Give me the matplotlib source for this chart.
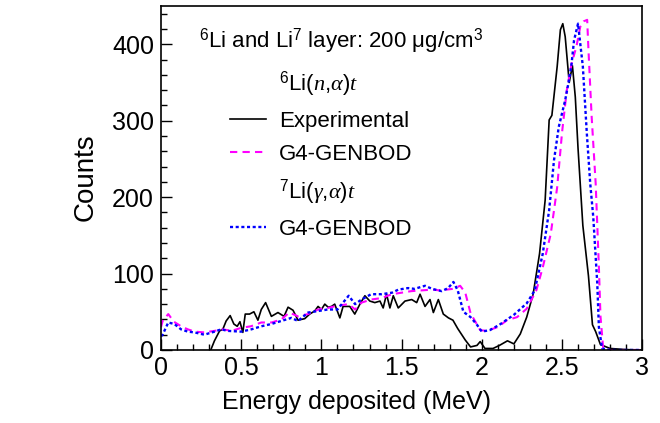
import matplotlib
matplotlib.use("Agg")
import matplotlib.pyplot as plt
from matplotlib.lines import Line2D
from matplotlib.ticker import MultipleLocator

plt.rcParams["font.family"] = ["Liberation Sans", "DejaVu Sans"]
plt.rcParams["mathtext.fontset"] = "custom"
plt.rcParams["mathtext.rm"] = "Liberation Sans"
plt.rcParams["mathtext.it"] = "Liberation Serif:italic"
plt.rcParams["mathtext.bf"] = "Liberation Sans:bold"

# Experimental 6Li(n,alpha)t spectrum
exp_energy = [0.31, 0.333, 0.365, 0.385, 0.406, 0.431, 0.454, 0.475, 0.492, 0.51,
              0.525, 0.552, 0.579, 0.604, 0.625, 0.652, 0.688, 0.729, 0.767, 0.792,
              0.823, 0.854, 0.896, 0.927, 0.958, 0.979, 1.0, 1.021, 1.042, 1.063,
              1.083, 1.115, 1.135, 1.177, 1.208, 1.24, 1.271, 1.302, 1.333, 1.365,
              1.385, 1.406, 1.427, 1.448, 1.479, 1.521, 1.563, 1.594, 1.615, 1.646,
              1.677, 1.698, 1.729, 1.76, 1.792, 1.82, 1.85, 1.897, 1.93, 1.97,
              1.99, 2.02, 2.07, 2.11, 2.16, 2.2, 2.24, 2.28, 2.32, 2.36,
              2.395, 2.42, 2.437, 2.47, 2.49, 2.505, 2.52, 2.545, 2.565, 2.583,
              2.6, 2.63, 2.665, 2.69, 2.71, 2.74, 2.8, 2.9, 3.0]
exp_counts = [0, 12, 25, 27, 38, 45, 34, 31, 37, 23,
              47, 47, 50, 39, 53, 62, 44, 49, 44, 56,
              52, 39, 41, 47, 51, 57, 53, 60, 56, 57,
              60, 42, 57, 57, 47, 60, 71, 64, 62, 64,
              55, 73, 55, 71, 55, 64, 66, 62, 73, 57,
              66, 49, 66, 47, 42, 39, 28, 13, 4, 6,
              11, 2, 2, 6, 12, 8, 21, 43, 73, 126,
              196, 301, 307, 371, 419, 427, 410, 350, 372, 331,
              264, 163, 97, 33, 24, 7, 2, 0.5, 0]

# G4-GENBOD 6Li(n,alpha)t
nat_energy = [0.0, 0.01, 0.045, 0.08, 0.125, 0.167, 0.21, 0.27, 0.333, 0.385,
              0.44, 0.5, 0.56, 0.625, 0.69, 0.75, 0.8, 0.854, 0.917, 0.98,
              1.04, 1.1, 1.17, 1.21, 1.25, 1.31, 1.375, 1.44, 1.5, 1.56,
              1.625, 1.69, 1.74, 1.82, 1.865, 1.897, 1.93, 1.96, 1.99, 2.03,
              2.1, 2.157, 2.22, 2.28, 2.34, 2.38, 2.43, 2.47, 2.5, 2.53,
              2.56, 2.59, 2.614, 2.635, 2.657, 2.665, 2.685, 2.71, 2.73, 2.74,
              2.757, 2.8, 3.0]
nat_counts = [30, 38, 47, 37, 31, 27, 24, 23, 25, 27,
              25, 29, 31, 36, 36, 40, 49, 44, 47, 53,
              55, 58, 60, 53, 62, 66, 68, 73, 75, 77,
              78, 79, 78, 80, 84, 75, 48, 37, 26, 25,
              30, 39, 43, 54, 78, 108, 152, 213, 284, 340,
              375, 397, 423, 430, 432, 393, 305, 218, 109, 44,
              2, 0, 0]

# G4-GENBOD 7Li(gamma,alpha)t
gat_energy = [0.0, 0.01, 0.045, 0.083, 0.125, 0.167, 0.21, 0.27, 0.333, 0.375,
              0.417, 0.5, 0.5625, 0.625, 0.6875, 0.75, 0.8125, 0.854, 0.917, 0.98,
              1.04, 1.1, 1.17, 1.21, 1.25, 1.31, 1.375, 1.44, 1.48, 1.54,
              1.58, 1.646, 1.69, 1.75, 1.79, 1.823, 1.85, 1.885, 1.93, 1.97,
              2.0, 2.05, 2.11, 2.2, 2.28, 2.33, 2.38, 2.42, 2.45, 2.48,
              2.52, 2.54, 2.56, 2.575, 2.6, 2.63, 2.655, 2.676, 2.695, 2.72,
              2.73, 2.75, 2.8, 3.0]
gat_counts = [18, 20, 36, 34, 27, 24, 23, 20, 24, 27,
              25, 24, 27, 31, 34, 38, 42, 38, 49, 51,
              53, 53, 71, 60, 66, 73, 73, 75, 79, 81,
              80, 84, 80, 77, 81, 89, 78, 50, 43, 33,
              24, 26, 33, 46, 61, 78, 126, 183, 248, 292,
              327, 349, 375, 405, 427, 371, 283, 218, 174, 87,
              30, 2, 0, 0]

fig = plt.figure(figsize=(6.6, 4.23), dpi=100)
ax = fig.add_axes([0.244, 0.1726, 0.729, 0.813])

ax.plot(exp_energy, exp_counts, color="black", lw=1.2, label="Experimental")
ax.plot(nat_energy, nat_counts, color="#ff00ff", lw=1.5, ls=(0, (3.5, 2.5)), label="G4-GENBOD")
ax.plot(gat_energy, gat_counts, color="#0000ff", lw=1.7, ls=(0, (1.3, 1.1)), label="G4-GENBOD")

ax.set_xlim(0, 3)
ax.set_ylim(0, 450)
ax.xaxis.set_major_locator(MultipleLocator(0.5))
ax.xaxis.set_minor_locator(MultipleLocator(0.1))
ax.yaxis.set_major_locator(MultipleLocator(100))
ax.yaxis.set_minor_locator(MultipleLocator(20))
ax.xaxis.set_major_formatter(matplotlib.ticker.FuncFormatter(lambda v, p: f"{v:g}"))
ax.tick_params(which="both", direction="in", top=False, right=False, labelsize=18, width=1.0)
ax.tick_params(axis="x", which="major", length=8, pad=4)
ax.tick_params(axis="x", which="minor", length=4)
ax.tick_params(axis="y", which="major", length=8, pad=5)
ax.tick_params(axis="y", which="minor", length=4)
for s in ax.spines.values():
    s.set_linewidth(1.2)

ax.set_xlabel("Energy deposited (MeV)", fontsize=18)
ax.xaxis.set_label_coords(0.407, -0.115)
ax.set_ylabel("Counts", fontsize=20)
ax.yaxis.set_label_coords(-0.13, 0.503)

ax.text(0.079, 0.898, r"$^{6}$Li and Li$^{7}$ layer: 200 μg/cm$^{3}$",
        transform=ax.transAxes, fontsize=16, va="center", ha="left")

lines = ax.get_lines()
blank = Line2D([], [], linestyle="none")
handles = [blank, lines[0], lines[1], blank, lines[2]]
labels = [r"$^{6}$Li($n$,$\alpha$)$t$", "Experimental", "G4-GENBOD",
          r"$^{7}$Li($\gamma$,$\alpha$)$t$", "G4-GENBOD"]
ax.legend(handles, labels, loc="upper left", bbox_to_anchor=(0.1435, 0.815),
          frameon=False, fontsize=16, handlelength=1.6, handletextpad=0.6,
          labelspacing=0.54, borderpad=0, borderaxespad=0)

fig.savefig("out.png", dpi=100)
